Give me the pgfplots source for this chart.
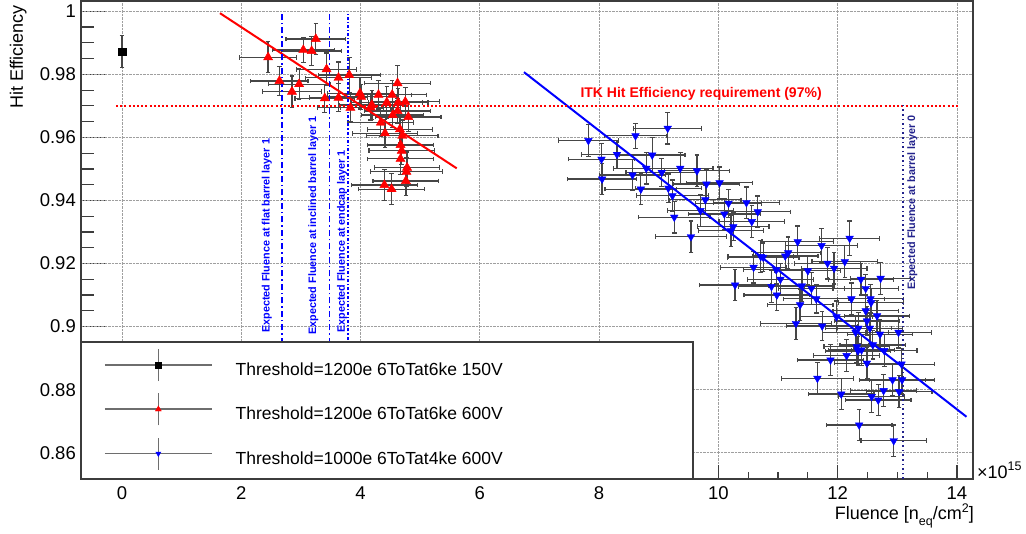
\documentclass[border=0pt]{standalone}
\usepackage{pgfplots}
\usepackage{pgfplotstable}
\pgfplotsset{compat=1.18}
\usepackage{fontspec}
\setmainfont{Liberation Sans}
\definecolor{errgray}{RGB}{70,70,70}
\definecolor{leggray}{RGB}{110,110,110}
\definecolor{navyl}{RGB}{35,35,140}
\definecolor{framec}{RGB}{60,60,60}

\pgfplotstableread{
x y ex ey
0 0.9872 0 0.0050
}\blackdata

\pgfplotstableread{
x y ex ey
2.45 0.9854 0.48 0.0049
3.25 0.9912 0.50 0.0050
3.04 0.9877 0.52 0.0040
3.18 0.9874 0.50 0.0045
2.64 0.9779 0.48 0.0045
2.85 0.9745 0.50 0.0050
2.97 0.9769 0.52 0.0048
3.43 0.9816 0.50 0.0052
3.63 0.9789 0.55 0.0050
3.81 0.9798 0.52 0.0055
3.40 0.9724 0.50 0.0045
3.63 0.9726 0.48 0.0045
3.83 0.9694 0.55 0.0045
3.99 0.9740 0.55 0.0050
4.01 0.9729 0.60 0.0040
4.19 0.9703 0.55 0.0045
4.17 0.9695 0.50 0.0040
4.30 0.9735 0.55 0.0045
4.44 0.9711 0.60 0.0050
4.53 0.9735 0.58 0.0045
4.62 0.9772 0.55 0.0055
4.63 0.9711 0.50 0.0045
4.75 0.9713 0.58 0.0045
4.62 0.9684 0.55 0.0040
4.54 0.9671 0.52 0.0040
4.80 0.9665 0.55 0.0045
4.34 0.9647 0.55 0.0045
4.41 0.9613 0.55 0.0045
4.66 0.9626 0.55 0.0045
4.70 0.9605 0.60 0.0050
4.67 0.9576 0.55 0.0045
4.69 0.9558 0.55 0.0045
4.67 0.9532 0.55 0.0050
4.78 0.9504 0.55 0.0050
4.77 0.9491 0.60 0.0045
4.76 0.9462 0.55 0.0045
4.40 0.9449 0.55 0.0050
4.52 0.9436 0.55 0.0050
}\reddata

\pgfplotstableread{
x y ex ey
7.82 0.9590 0.50 0.0050
8.61 0.9605 0.52 0.0040
9.15 0.9629 0.57 0.0050
8.04 0.9531 0.55 0.0050
8.30 0.9546 0.60 0.0045
8.89 0.9544 0.55 0.0055
8.05 0.9468 0.58 0.0050
8.56 0.9481 0.55 0.0050
8.79 0.9502 0.55 0.0050
9.05 0.9489 0.60 0.0045
9.36 0.9502 0.55 0.0050
9.64 0.9494 0.55 0.0050
8.70 0.9436 0.60 0.0050
9.16 0.9439 0.55 0.0045
9.23 0.9415 0.60 0.0050
9.80 0.9452 0.55 0.0045
10.02 0.9456 0.55 0.0050
9.78 0.9402 0.60 0.0045
9.70 0.9368 0.55 0.0050
9.26 0.9347 0.60 0.0050
9.54 0.9285 0.60 0.0050
10.10 0.9357 0.60 0.0050
10.17 0.9391 0.55 0.0045
10.47 0.9393 0.55 0.0050
10.66 0.9364 0.55 0.0050
10.56 0.9333 0.55 0.0050
10.25 0.9317 0.60 0.0045
10.21 0.9304 0.55 0.0050
10.71 0.9222 0.55 0.0050
11.33 0.9269 0.60 0.0050
11.17 0.9234 0.55 0.0050
11.73 0.9257 0.60 0.0055
11.12 0.9224 0.55 0.0045
10.75 0.9220 0.60 0.0045
10.59 0.9188 0.55 0.0050
10.97 0.9180 0.55 0.0045
11.04 0.9150 0.55 0.0050
10.89 0.9127 0.55 0.0050
10.98 0.9100 0.55 0.0050
10.28 0.9132 0.60 0.0050
11.40 0.9129 0.55 0.0050
11.50 0.9177 0.55 0.0045
11.56 0.9121 0.55 0.0050
11.64 0.9088 0.55 0.0045
11.37 0.9069 0.55 0.0050
11.83 0.9201 0.55 0.0050
11.94 0.9185 0.55 0.0050
11.98 0.9031 0.60 0.0050
11.30 0.9010 0.60 0.0050
11.74 0.9002 0.60 0.0045
12.20 0.9280 0.50 0.0055
12.12 0.9206 0.55 0.0050
12.39 0.9150 0.55 0.0050
12.72 0.9153 0.50 0.0050
12.47 0.9121 0.55 0.0045
12.23 0.9088 0.55 0.0050
12.55 0.9088 0.55 0.0045
12.56 0.9076 0.55 0.0045
12.47 0.9050 0.55 0.0050
12.66 0.9034 0.55 0.0050
12.49 0.9018 0.55 0.0045
12.35 0.8995 0.55 0.0050
12.54 0.8995 0.55 0.0050
12.71 0.8976 0.55 0.0045
13.02 0.8982 0.55 0.0050
12.30 0.8982 0.55 0.0050
12.59 0.8942 0.55 0.0045
12.32 0.8936 0.55 0.0050
12.34 0.8923 0.55 0.0045
12.40 0.8926 0.55 0.0050
12.78 0.8924 0.55 0.0050
12.15 0.8908 0.55 0.0050
11.88 0.8894 0.55 0.0050
12.49 0.8884 0.55 0.0050
13.07 0.8881 0.55 0.0050
11.66 0.8836 0.60 0.0050
12.92 0.8831 0.55 0.0050
13.08 0.8831 0.55 0.0045
12.77 0.8797 0.55 0.0050
12.06 0.8786 0.55 0.0050
12.57 0.8778 0.55 0.0050
13.03 0.8794 0.55 0.0050
12.68 0.8767 0.55 0.0050
12.36 0.8688 0.55 0.0050
12.94 0.8638 0.55 0.0050
}\bluedata

\pgfplotsset{
  errstyle/.style={
    error bars/.cd, x dir=both, x explicit, y dir=both, y explicit,
    error bar style={errgray, line width=1.25pt},
    error mark options={rotate=90, errgray, line width=1.2pt, mark size=2.3pt},
    /pgfplots/.cd
  },
  legimg/.style={/pgfplots/legend image code/.code={
    \draw[leggray, line width=1.7pt] (0pt,6pt) -- (107pt,6pt);
    \draw[leggray, line width=1.7pt] (53.5pt,-10pt) -- (53.5pt,22pt);
    \draw[mark size=#1] plot coordinates {(53.5pt,6pt)};
  }},
}

\begin{document}
\begin{tikzpicture}
\useasboundingbox (-81pt,-55pt) rectangle (945pt,479pt);
% y ticks (long) axis
\begin{axis}[
  at={(0pt,0pt)}, anchor=south west,
  scale only axis, width=892pt, height=478pt,
  xmin=-0.6875, xmax=14.269, ymin=0.85167, ymax=1.00327,
  axis line style={draw=none},
  xtick=\empty,
  ytick={0.86,0.88,0.90,0.92,0.94,0.96,0.98,1},
  yticklabels={},
  minor y tick num=3,
  tick pos=left, tick align=inside,
  major tick length=26pt, minor tick length=13pt,
  ytick style={framec, line width=1.2pt},
]
\addplot[draw=none, forget plot] coordinates {(0,0.9)};
\end{axis}
% main axis
\begin{axis}[
  at={(0pt,0pt)}, anchor=south west,
  scale only axis, width=892pt, height=478pt,
  xmin=-0.6875, xmax=14.269, ymin=0.85167, ymax=1.00327,
  axis line style={framec, line width=1.3pt},
  tick pos=left, tick align=inside,
  xtick={0,2,...,14}, minor x tick num=3,
  ytick={0.86,0.88,0.90,0.92,0.94,0.96,0.98,1},
  yticklabels={0.86,0.88,0.9,0.92,0.94,0.96,0.98,1},
  minor y tick num=3,
  major tick length=14pt, minor tick length=7pt,
  ytick style={draw=none},
  xtick style={framec, line width=1.2pt},
  grid=major, grid style={gray!75, densely dotted, line width=0.9pt},
  ticklabel style={font=\fontsize{18.5}{20}\selectfont, inner sep=0pt},
  xticklabel style={yshift=-7.5pt},
  yticklabel style={xshift=-5pt},
  /pgf/number format/assume math mode=true,
  legend style={at={(0.0258,0.2735)}, anchor=north west, draw=none, fill=none,
    inner sep=0pt, outer sep=0pt, row sep=10.5pt, column sep=23pt,
    font=\fontsize{17.5}{20}\selectfont,
    nodes={text height=13pt, text depth=4pt, inner sep=0pt}},
  legend cell align=left,
]
% data
\addplot[only marks, mark=square*, mark size=3.7pt, mark options={draw=black, fill=black}, black, legimg=3.2pt, errstyle]
  table[x=x, y=y, x error=ex, y error=ey] {\blackdata};
\addlegendentry{Threshold=1200e 6ToTat6ke 150V}
\addplot[only marks, mark=triangle*, mark size=5.3pt, mark options={draw=red, fill=red}, red, legimg=3.4pt, errstyle]
  table[x=x, y=y, x error=ex, y error=ey] {\reddata};
\addlegendentry{Threshold=1200e 6ToTat6ke 600V}
\addplot[only marks, mark=triangle*, mark size=4.4pt, mark options={draw=blue, fill=blue, rotate=180}, blue, legimg=3pt, errstyle]
  table[x=x, y=y, x error=ex, y error=ey] {\bluedata};
\addlegendentry{Threshold=1000e 6ToTat4ke 600V}
% fits
\addplot[red, line width=2pt, forget plot] coordinates {(1.643,0.9994) (5.612,0.9502)};
\addplot[blue, line width=2pt, forget plot] coordinates {(6.74,0.9807) (14.16,0.8714)};
% requirement line
\addplot[red, line width=2pt, dash pattern=on 2pt off 2.2pt, forget plot] coordinates {(-0.1,0.97) (14.05,0.97)};
% expected fluence lines
\addplot[blue, line width=1.6pt, dash pattern=on 6pt off 3pt on 1.5pt off 3pt, forget plot] coordinates {(2.68,0.85167) (2.68,0.9995)};
\addplot[blue, line width=1.6pt, dash pattern=on 6pt off 3pt on 1.5pt off 3pt, forget plot] coordinates {(3.48,0.85167) (3.48,0.9995)};
\addplot[blue, line width=1.6pt, dash pattern=on 3pt off 2pt on 1.2pt off 2pt, forget plot] coordinates {(3.79,0.85167) (3.79,0.9995)};
\addplot[navyl, line width=1.8pt, dash pattern=on 1.6pt off 3pt, forget plot] coordinates {(13.09,0.85167) (13.09,0.971)};
% texts
\node[text=red, inner sep=0pt, font=\bfseries\fontsize{14}{16}\selectfont] at (axis cs:9.71,0.9738) {ITK Hit Efficiency requirement (97\%)};
\node[rotate=90, anchor=west, inner sep=0pt, text=blue, font=\bfseries\fontsize{10.8}{12}\selectfont] at (axis cs:2.43,0.898) {Expected Fluence at flat barrel layer 1};
\node[rotate=90, anchor=west, inner sep=0pt, text=blue, font=\bfseries\fontsize{10.8}{12}\selectfont] at (axis cs:3.21,0.8974) {Expected Fluence at inclined barrel layer 1};
\node[rotate=90, anchor=west, inner sep=0pt, text=blue, font=\bfseries\fontsize{10.8}{12}\selectfont] at (axis cs:3.69,0.898) {Expected Fluence at endcap layer 1};
\node[rotate=90, anchor=west, inner sep=0pt, text=navyl, font=\bfseries\fontsize{10.8}{12}\selectfont] at (axis cs:13.25,0.9116) {Expected Fluence at barrel layer 0};
% legend box
\draw[framec, line width=1.3pt, fill=white] (axis cs:-0.6875,0.85167) rectangle (axis cs:9.574,0.8951);
\end{axis}
% axis titles
\node[rotate=90, anchor=base east, inner sep=0pt, font=\fontsize{18}{20}\selectfont] at (-58pt,474pt) {Hit Efficiency};
\node[anchor=base east, inner sep=0pt, font=\fontsize{18}{20}\selectfont] at (893pt,-41pt) {Fluence [n\raisebox{-6pt}{\fontsize{12.5}{13}\selectfont eq}/cm\raisebox{7pt}{\fontsize{12.5}{13}\selectfont 2}]};
\node[anchor=base west, inner sep=0pt, font=\fontsize{18}{20}\selectfont] at (896pt,0pt) {×10\raisebox{8pt}{\fontsize{12.5}{13}\selectfont 15}};
\end{tikzpicture}
\end{document}
